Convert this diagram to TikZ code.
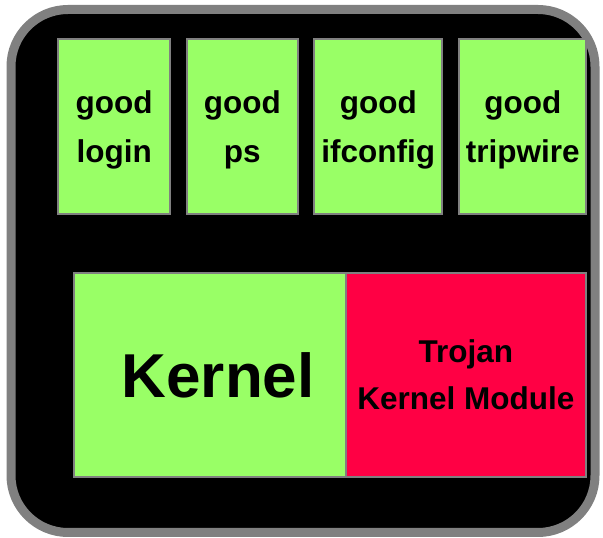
\documentclass[tikz,border=0pt]{standalone}
\usepackage{fontspec}
\setmainfont{Liberation Sans}
\definecolor{kgreen}{HTML}{99FF66}
\definecolor{kred}{HTML}{FF0044}
\definecolor{kgray}{HTML}{808080}
\newcommand{\topstrut}{\rule{0pt}{29.5pt}}
\tikzset{
  frame/.style={draw=kgray, line width=9pt, fill=black, rounded corners=57pt},
  progbox/.style={draw=kgray, line width=2pt, fill=kgreen, inner sep=0pt, align=center,
    font=\fontsize{31.5}{49}\selectfont\bfseries, minimum height=174.7pt},
  kbox/.style={draw=kgray, line width=2pt, inner sep=0pt, minimum height=203.4pt}
}
\begin{document}
\begin{tikzpicture}[x=1pt,y=1pt]
\useasboundingbox (0,0) rectangle (603,538);
\draw[frame] (11,528.5) rectangle (595,5.5);
\node[progbox, minimum width=111.7pt] (login) at (114.15,411.35) {\topstrut good\\login};
\node[progbox, minimum width=111.3pt] (ps) at (242.35,411.35) {\topstrut good\\ps};
\node[progbox, minimum width=128pt] (ifconfig) at (378.3,411.35) {\topstrut good\\ifconfig};
\node[progbox, minimum width=127pt] (tripwire) at (522.8,411.35) {\topstrut good\\tripwire};
\node[kbox, fill=kgreen, minimum width=271.7pt, font=\fontsize{62}{62}\selectfont\bfseries] (kernel) at (210.15,163) {\hspace*{16pt}Kernel};
\node[kbox, fill=kred, minimum width=239.7pt, align=center, font=\fontsize{31.5}{46.7}\selectfont\bfseries] (trojan) at (465.85,163) {Trojan\\Kernel Module};
\end{tikzpicture}
\end{document}
